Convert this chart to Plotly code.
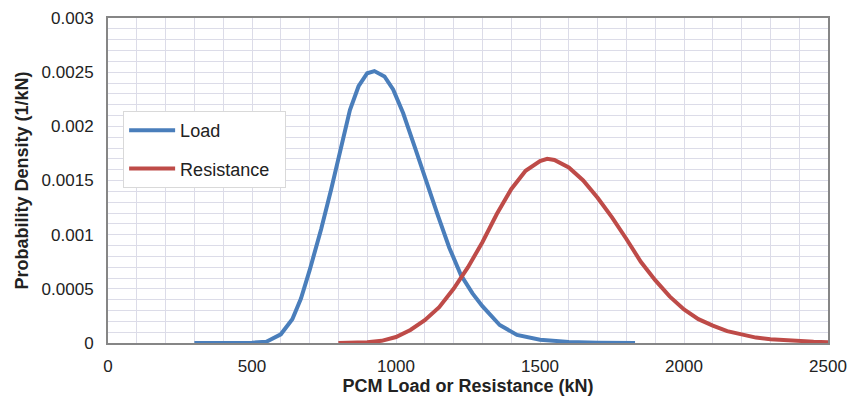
import plotly.graph_objects as go

load_x = [300, 400, 450, 500, 550, 600, 640, 670, 700, 740, 775, 810, 840, 870, 900, 925,
          960, 990, 1025, 1065, 1105, 1145, 1185, 1225, 1265, 1300, 1360, 1420, 1500, 1600,
          1700, 1830]
load_y = [0.0, 0.0, 0.000001, 0.000003, 0.000012, 0.00008, 0.00022, 0.00041, 0.00067,
          0.00105, 0.00142, 0.00183, 0.00215, 0.00237, 0.00249, 0.00251, 0.00246, 0.00234,
          0.00212, 0.00181, 0.00148, 0.00118, 0.00088, 0.00063, 0.00046, 0.00034, 0.000166,
          0.000075, 0.00003, 0.00001, 0.000003, 0.000001]

res_x = [800, 850, 900, 950, 1000, 1050, 1100, 1150, 1200, 1250, 1300, 1350, 1400, 1450,
         1500, 1525, 1550, 1600, 1650, 1700, 1750, 1800, 1850, 1900, 1950, 2000, 2050, 2100,
         2150, 2200, 2250, 2300, 2350, 2400, 2450, 2500]
res_y = [0.0000005, 0.000002, 0.000008, 0.00002, 0.000055, 0.00012, 0.00021, 0.00033,
         0.0005, 0.0007, 0.00093, 0.00119, 0.00142, 0.00159, 0.00168, 0.0017, 0.00169,
         0.00162, 0.0015, 0.00134, 0.00116, 0.00096, 0.00075, 0.00058, 0.00043, 0.00031,
         0.00022, 0.00016, 0.00011, 0.00008, 0.00005, 0.000035, 0.000025, 0.000018,
         0.000012, 0.000008]

x_ticks = [0, 500, 1000, 1500, 2000, 2500]
y_ticks = [0, 0.0005, 0.001, 0.0015, 0.002, 0.0025, 0.003]
y_tick_text = ["0", "0.0005", "0.001", "0.0015", "0.002", "0.0025", "0.003"]

FONT = "Liberation Sans, Arial, sans-serif"
GRID = "#dcdce8"
TXT = "#222222"

fig = go.Figure()
fig.add_trace(go.Scatter(x=load_x, y=load_y, mode="lines", name="Load", legendgroup="a",
                         line=dict(color="#4A7EBB", width=4)))
fig.add_trace(go.Scatter(x=res_x, y=res_y, mode="lines", name="Resistance  ", legendgroup="b",
                         line=dict(color="#BE4B48", width=4)))

fig.update_layout(
    width=849, height=396,
    margin=dict(l=108, r=21, t=18, b=53),
    paper_bgcolor="white", plot_bgcolor="white",
    font=dict(family=FONT, size=17, color=TXT),
    showlegend=True,
    legend=dict(x=0.021, y=0.714, xanchor="left", yanchor="top",
                bgcolor="white", bordercolor="#d9d9d9", borderwidth=1,
                tracegroupgap=12, itemwidth=46,
                font=dict(family=FONT, size=18, color=TXT)),
    xaxis=dict(range=[0, 2500], tickvals=x_ticks, ticks="", ticklabelstandoff=7,
               automargin=False,
               tickfont=dict(family=FONT, size=17, color=TXT),
               showgrid=True, gridcolor=GRID, gridwidth=1,
               minor=dict(dtick=100, showgrid=True, gridcolor=GRID, gridwidth=1),
               showline=True, linecolor="#868686", linewidth=2, mirror=True,
               zeroline=False,
               title=dict(text="<b>PCM Load or Resistance (kN)</b>", standoff=4,
                          font=dict(family=FONT, size=18, color=TXT))),
    yaxis=dict(range=[0, 0.003], tickvals=y_ticks, ticktext=y_tick_text, ticks="",
               ticklabelstandoff=9, automargin=False,
               tickfont=dict(family=FONT, size=17, color=TXT),
               showgrid=True, gridcolor=GRID, gridwidth=1,
               minor=dict(dtick=0.0001, showgrid=True, gridcolor=GRID, gridwidth=1),
               showline=True, linecolor="#868686", linewidth=2, mirror=True,
               zeroline=False,
               title=dict(text="<b>Probability Density (1/kN)</b>", standoff=8,
                          font=dict(family=FONT, size=18, color=TXT))),
)

fig.write_html("out.html")
